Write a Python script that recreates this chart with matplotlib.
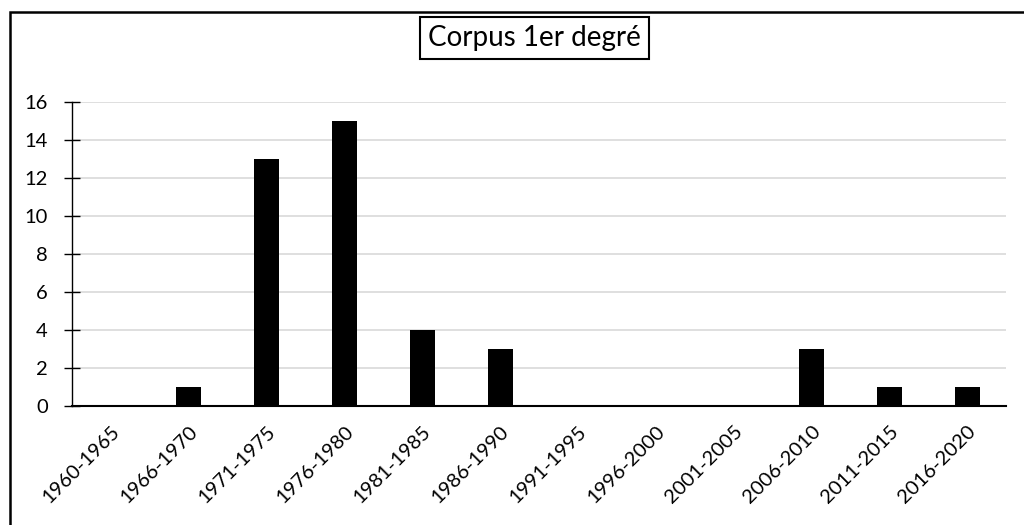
import matplotlib
matplotlib.use("Agg")
import matplotlib.pyplot as plt
from matplotlib.patches import Rectangle

categories = ["1960-1965", "1966-1970", "1971-1975", "1976-1980", "1981-1985",
              "1986-1990", "1991-1995", "1996-2000", "2001-2005", "2006-2010",
              "2011-2015", "2016-2020"]
values = [0, 1, 13, 15, 4, 3, 0, 0, 0, 3, 1, 1]
yticks = [0, 2, 4, 6, 8, 10, 12, 14, 16]
title = "Corpus 1er degré"

plt.rcParams['font.family'] = ['Lato', 'DejaVu Sans']

W, H = 1024, 525
fig = plt.figure(figsize=(W/100, H/100), dpi=100)
ax = fig.add_axes([72/W, 1-406/H, (1006-72)/W, (406-102)/H])

x = list(range(len(categories)))
ax.bar(x, values, width=0.32, color='black', zorder=3)
ax.set_xlim(-0.5, len(categories)-0.5)
ax.set_ylim(0, 16)
ax.set_yticks(yticks)
ax.set_xticks(x)
ax.set_xticklabels(categories, rotation=45, ha='right', rotation_mode='anchor', fontsize=14.5)
ax.tick_params(axis='x', length=0, pad=12)
ax.tick_params(axis='y', direction='inout', length=11, width=1, labelsize=14.5, pad=12)
ax.yaxis.grid(True, color='#d9d9d9', linewidth=1.2, zorder=0)
for s in ['top', 'right']:
    ax.spines[s].set_visible(False)
ax.spines['left'].set_linewidth(1)
ax.spines['bottom'].set_linewidth(1.5)

# outer frame
fig.patches.append(Rectangle((10/W, -0.02), 1.02 - 10/W, 1-12/H + 0.02,
                             transform=fig.transFigure, fill=False,
                             edgecolor='black', linewidth=1.8))
fig.text((417+652)/2/W, 1-38/H, title, ha='center', va='center', fontsize=20,
         bbox=dict(boxstyle='square,pad=0.28', facecolor='white', edgecolor='black', linewidth=1.5))

fig.savefig("out.png", dpi=100)
